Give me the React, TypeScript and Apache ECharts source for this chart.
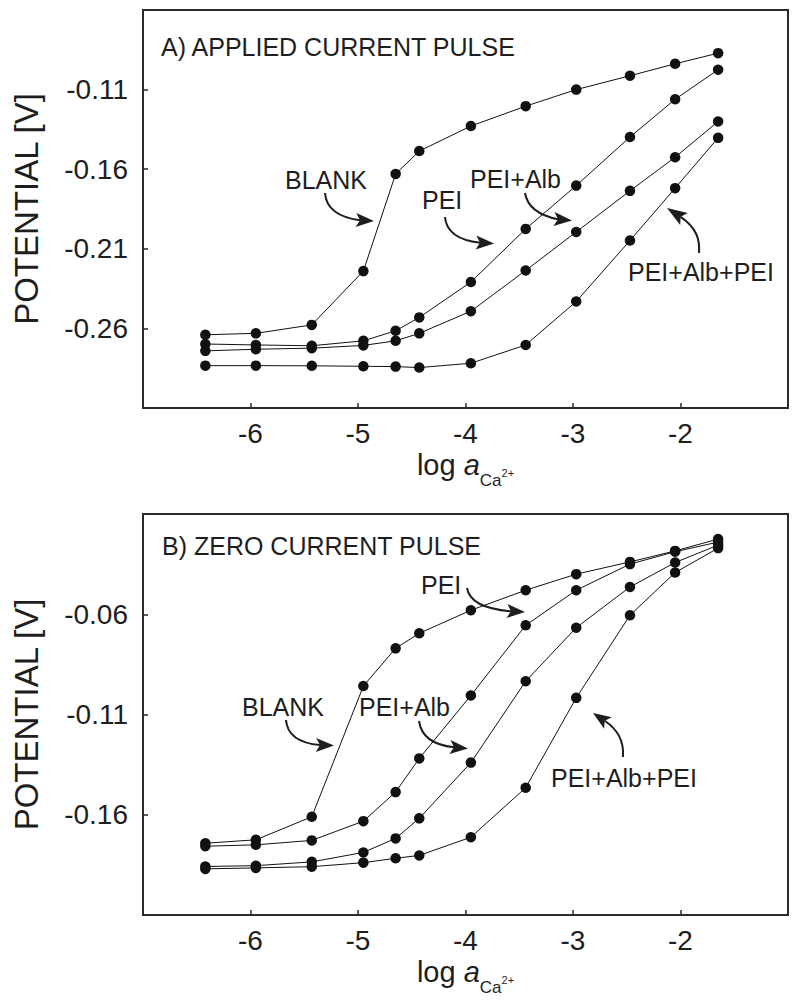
import React, { useEffect, useRef } from "react";
import * as echarts from "echarts";

// x: log a(Ca2+)
const logA = [-6.42, -5.95, -5.43, -4.95, -4.65, -4.43, -3.95, -3.44, -2.97, -2.47, -2.05, -1.65];

// Panel A: applied current pulse (V)
const aBlank = [-0.264, -0.2631, -0.2578, -0.224, -0.163, -0.1486, -0.1329, -0.1204, -0.110, -0.1013, -0.0938, -0.0871];
const aPei = [-0.2698, -0.2704, -0.2709, -0.2678, -0.2615, -0.2531, -0.2309, -0.1975, -0.1703, -0.1398, -0.1161, -0.0975];
const aPeiAlb = [-0.2741, -0.2731, -0.2724, -0.2707, -0.2678, -0.2631, -0.2492, -0.2236, -0.1994, -0.1736, -0.1525, -0.130];
const aPeiAlbPei = [-0.2834, -0.2834, -0.2835, -0.2838, -0.284, -0.2846, -0.2819, -0.2704, -0.2431, -0.2048, -0.1719, -0.1403];

// Panel B: zero current pulse (V)
const bBlank = [-0.1742, -0.1725, -0.161, -0.0958, -0.077, -0.0695, -0.058, -0.048, -0.040, -0.0339, -0.0284, -0.0225];
const bPei = [-0.1757, -0.175, -0.1728, -0.1632, -0.1487, -0.1319, -0.1005, -0.0655, -0.048, -0.035, -0.0288, -0.024];
const bPeiAlb = [-0.1858, -0.1854, -0.1835, -0.1788, -0.1718, -0.1618, -0.134, -0.0934, -0.0667, -0.0464, -0.0342, -0.0255];
const bPeiAlbPei = [-0.187, -0.1865, -0.1859, -0.1839, -0.1817, -0.1803, -0.1712, -0.1465, -0.1017, -0.0605, -0.0392, -0.027];

const xTicks = [-6, -5, -4, -3, -2];
const aYTicks = [-0.26, -0.21, -0.16, -0.11];
const bYTicks = [-0.16, -0.11, -0.06];

const FONT = "'Liberation Sans', Arial, Helvetica, sans-serif";
const INK = "#1e1e1e";

function lbl(text: string, left: number, baseline: number, fs = 25) {
  return {
    type: "text",
    x: left,
    y: baseline - 0.35 * fs,
    style: { text, fontSize: fs, fontFamily: FONT, fill: INK, align: "left", verticalAlign: "middle" },
    silent: true,
  };
}

function arrow(s: number[], c1: number[], c2: number[], e: number[], tip: number[]) {
  const dx = tip[0] - e[0];
  const dy = tip[1] - e[1];
  const L = Math.hypot(dx, dy);
  const w = 7;
  const px = (-dy / L) * w;
  const py = (dx / L) * w;
  const back = [e[0] + (dx / L) * 4, e[1] + (dy / L) * 4];
  return [
    {
      type: "bezierCurve",
      shape: { x1: s[0], y1: s[1], cpx1: c1[0], cpy1: c1[1], cpx2: c2[0], cpy2: c2[1], x2: back[0], y2: back[1] },
      style: { stroke: INK, lineWidth: 2, fill: null },
      silent: true,
    },
    {
      type: "polygon",
      shape: { points: [tip, [e[0] + px, e[1] + py], back, [e[0] - px, e[1] - py]] },
      style: { fill: INK },
      silent: true,
    },
  ];
}

function xAxisCfg(gridIndex: number) {
  return {
    type: "value",
    gridIndex,
    min: -7,
    max: -1,
    name: "{n|log }{i|a}{s|Ca}{p|2+}",
    nameLocation: "middle",
    nameGap: 42,
    nameTextStyle: {
      rich: {
        n: { fontSize: 29, lineHeight: 29, fontFamily: FONT, color: INK, verticalAlign: "top" },
        i: { fontSize: 29, lineHeight: 29, fontFamily: FONT, color: INK, fontStyle: "italic", verticalAlign: "top" },
        s: { fontSize: 17, lineHeight: 17, fontFamily: FONT, color: INK, padding: [22, 0, 0, 0], verticalAlign: "top" },
        p: { fontSize: 11, lineHeight: 11, fontFamily: FONT, color: INK, padding: [17, 0, 0, 0], verticalAlign: "top" },
      },
    },
    axisLine: { show: true, onZero: false, lineStyle: { color: "#2a2a2a", width: 2 } },
    axisTick: { show: true, inside: true, length: 5, customValues: xTicks, lineStyle: { color: "#2a2a2a", width: 1.5 } },
    axisLabel: {
      customValues: xTicks,
      margin: 11,
      fontSize: 28,
      fontFamily: FONT,
      color: INK,
      formatter: (v: number) => String(v),
    },
    splitLine: { show: false },
  };
}

function yAxisCfg(gridIndex: number, min: number, max: number, ticks: number[]) {
  return {
    type: "value",
    gridIndex,
    min,
    max,
    name: "POTENTIAL [V]",
    nameLocation: "middle",
    nameGap: 100,
    nameRotate: 90,
    nameTextStyle: { fontSize: 33, fontFamily: FONT, color: INK },
    axisLine: { show: true, onZero: false, lineStyle: { color: "#2a2a2a", width: 2 } },
    axisTick: { show: true, inside: true, length: 5, customValues: ticks, lineStyle: { color: "#2a2a2a", width: 1.5 } },
    axisLabel: {
      customValues: ticks,
      margin: 15,
      fontSize: 28,
      fontFamily: FONT,
      color: INK,
      formatter: (v: number) => v.toFixed(2),
    },
    splitLine: { show: false },
  };
}

function lineSeries(name: string, ys: number[], idx: number) {
  return {
    type: "line",
    name,
    xAxisIndex: idx,
    yAxisIndex: idx,
    data: logA.map((x, i) => [x, ys[i]]),
    symbol: "circle",
    symbolSize: 10.5,
    itemStyle: { color: "#111" },
    lineStyle: { color: "#111", width: 1 },
    emphasis: { disabled: true },
  };
}

export default function App() {
  const ref = useRef<HTMLDivElement>(null);
  useEffect(() => {
    if (!ref.current) return;
    const chart = echarts.init(ref.current, null, { renderer: "svg" });
    const graphics: any[] = [
      lbl("A) APPLIED CURRENT PULSE", 161, 56),
      lbl("BLANK", 285, 189),
      lbl("PEI", 422, 209),
      lbl("PEI+Alb", 470, 188),
      lbl("PEI+Alb+PEI", 628, 281),
      ...arrow([325, 193], [326, 207], [336, 217], [356, 220], [374, 221]),
      ...arrow([445, 217], [446, 230], [456, 240], [476, 242.5], [494, 243.5]),
      ...arrow([525, 193], [527, 205], [537, 215], [554, 219], [572, 220.5]),
      ...arrow([699, 253], [700, 240], [697, 228], [684, 219], [667, 208]),
      lbl("B) ZERO CURRENT PULSE", 162, 555),
      lbl("PEI", 421, 594),
      lbl("BLANK", 242, 716),
      lbl("PEI+Alb", 359, 716),
      lbl("PEI+Alb+PEI", 551, 787),
      ...arrow([467, 588], [469, 600], [482, 609], [507, 611], [525, 612]),
      ...arrow([286, 720], [287, 733], [297, 743], [316, 745], [334, 745.5]),
      ...arrow([419, 721], [421, 735], [432, 745], [450, 747], [468, 748.5]),
      ...arrow([623, 757], [624, 744], [620, 731], [608, 723], [593, 713]),
    ];
    chart.setOption({
      animation: false,
      backgroundColor: "#ffffff",
      grid: [
        { left: 143, top: 10, width: 645, height: 398, show: true, borderColor: "#2a2a2a", borderWidth: 2, backgroundColor: "transparent" },
        { left: 143, top: 514, width: 645, height: 401, show: true, borderColor: "#2a2a2a", borderWidth: 2, backgroundColor: "transparent" },
      ],
      xAxis: [xAxisCfg(0), xAxisCfg(1)],
      yAxis: [yAxisCfg(0, -0.31, -0.06, aYTicks), yAxisCfg(1, -0.21, -0.01, bYTicks)],
      series: [
        lineSeries("BLANK", aBlank, 0),
        lineSeries("PEI", aPei, 0),
        lineSeries("PEI+Alb", aPeiAlb, 0),
        lineSeries("PEI+Alb+PEI", aPeiAlbPei, 0),
        lineSeries("BLANK", bBlank, 1),
        lineSeries("PEI", bPei, 1),
        lineSeries("PEI+Alb", bPeiAlb, 1),
        lineSeries("PEI+Alb+PEI", bPeiAlbPei, 1),
      ],
      graphic: graphics,
    });
    return () => chart.dispose();
  }, []);
  return (
    <div
      ref={ref}
      style={{ position: "absolute", left: 0, top: 0, width: 800, height: 1000, background: "#fff" }}
    />
  );
}
